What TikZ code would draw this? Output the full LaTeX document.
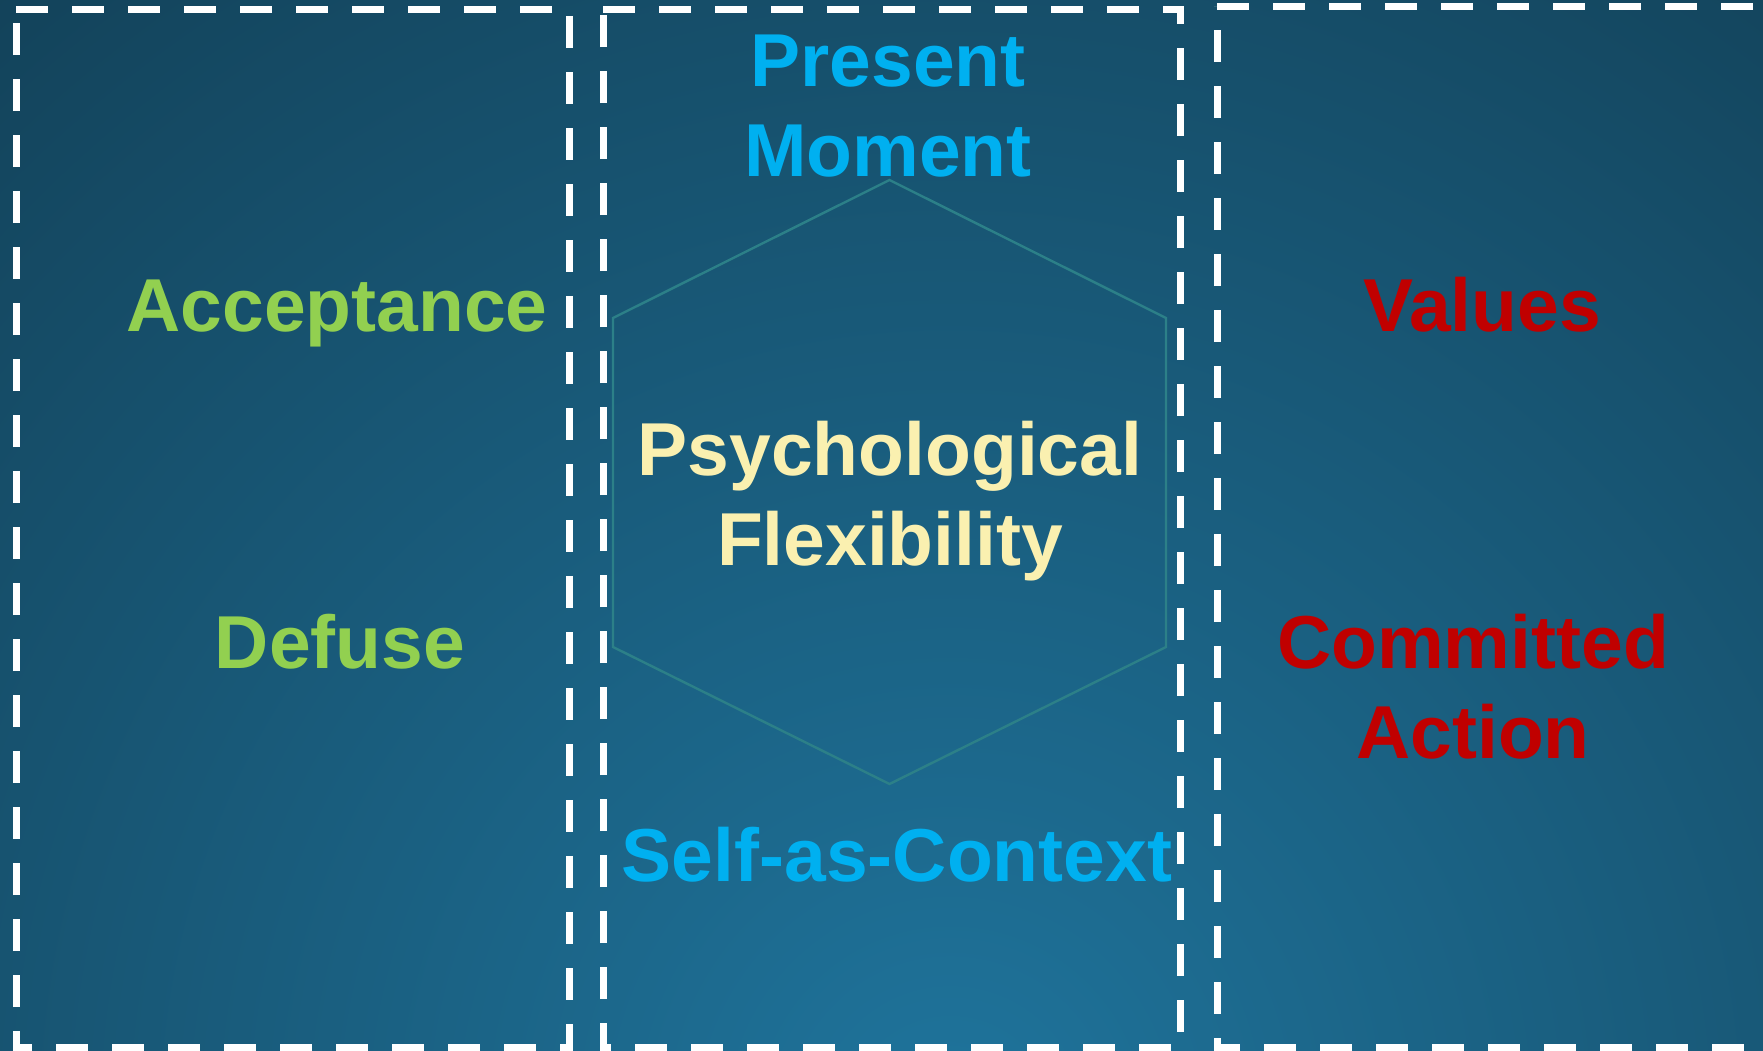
\documentclass[tikz,border=0pt]{standalone}
\usepackage{fontspec}
\setmainfont{Liberation Sans}

\definecolor{bgdark}{HTML}{113B50}
\definecolor{bglight}{HTML}{1F749C}
\definecolor{hexline}{HTML}{2C8088}
\definecolor{cyanlabel}{HTML}{00B0F0}
\definecolor{greenlabel}{HTML}{92D050}
\definecolor{redlabel}{HTML}{C00000}
\definecolor{yellowlabel}{HTML}{FAF0B0}

\tikzset{
  panel/.style={draw=white, line width=7pt, dash pattern=on 32pt off 24pt},
  label/.style={inner sep=0pt, anchor=base, align=center,
    font=\fontsize{75}{90}\selectfont\bfseries},
}

\begin{document}
\begin{tikzpicture}[x=1pt, y=-1pt]
  \useasboundingbox (0,0) rectangle (1763,1050);
  \clip (0,0) rectangle (1763,1050);

  % background with a soft glow rising from the bottom edge
  \fill[bgdark] (0,0) rectangle (1763,1050);
  \shade[inner color=bglight, outer color=bgdark] (950,1120) circle (1700);

  % three dashed panels
  \draw[panel] (16,9) -- (569,9) -- (569,1047) -- (16,1047) -- cycle;
  \draw[panel] (603,9) -- (1180,9) -- (1180,1047) -- (603,1047) -- cycle;
  \draw[panel] (1217,6) -- (1800,6) -- (1800,1047) -- (1217,1047) -- cycle;

  % central hexagon
  \draw[hexline, line width=2.4pt]
    (889.5,180) -- (1166,318) -- (1166,647) -- (889.5,784)
    -- (613,647) -- (613,318) -- cycle;

  % labels (base anchor sits on the last line's baseline)
  \node[label, text=cyanlabel] (present) at (888,176) {Present\\Moment};
  \node[label, text=greenlabel] (accept) at (337,331) {Acceptance};
  \node[label, text=greenlabel] (defuse) at (340,668) {Defuse};
  \node[label, text=redlabel] (values) at (1482,331) {Values};
  \node[label, text=redlabel] (commit) at (1473,758) {Committed\\Action};
  \node[label, text=yellowlabel] (flex) at (890,565) {Psychological\\Flexibility};
  \node[label, text=cyanlabel] (self) at (897,881) {Self-as-Context};
\end{tikzpicture}
\end{document}
